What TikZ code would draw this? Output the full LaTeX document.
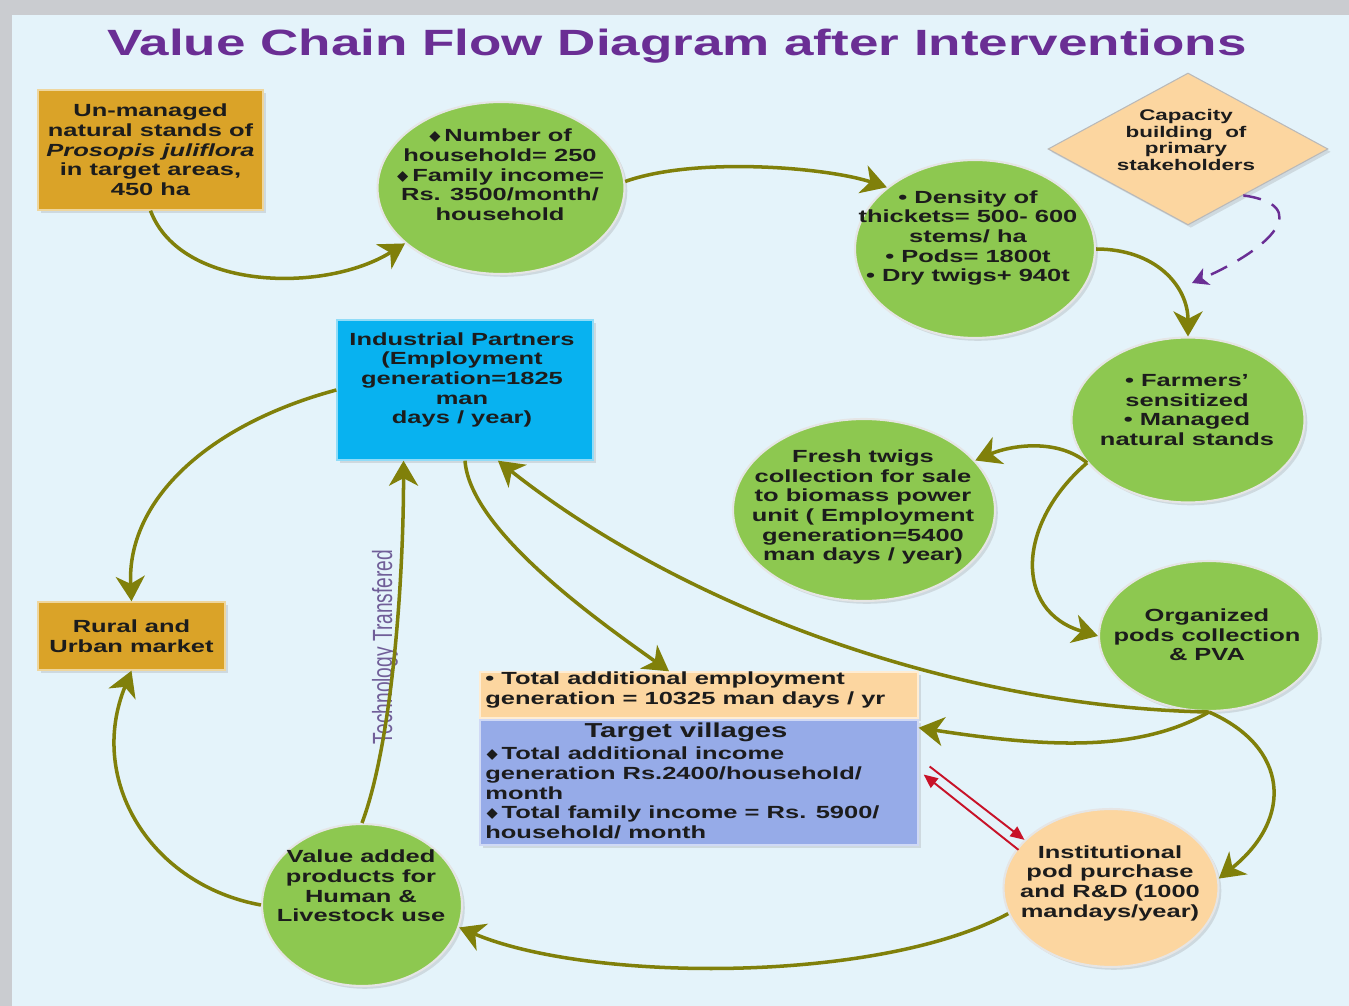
\documentclass[tikz,border=0pt]{standalone}
\usepackage{fontspec}
\usepackage{amssymb}
\usepackage{graphicx}
\setmainfont[FakeStretch=1.45]{Liberation Sans}
\newfontfamily\rotfont[FakeStretch=0.69]{Liberation Sans}
\usetikzlibrary{shapes.geometric,arrows.meta,shadows}

\newcommand{\dmd}{\raisebox{0.1ex}{\scalebox{1.45}[1]{\scriptsize$\blacklozenge$}}\hspace{0.15em}}

\begin{document}
\begin{tikzpicture}[x=0.02cm, y=-0.02cm,
    soft/.style={drop shadow={shadow xshift=1.6pt, shadow yshift=-1.6pt, opacity=0.22}},
    bubble/.style={ellipse, fill=leaf, draw=white!80!gray, line width=1.2pt, inner sep=0pt, soft},
    box/.style={rectangle, inner sep=0pt, draw=white!55!#1, line width=0.8pt, fill=#1, soft},
    txt/.style={align=center, text=ink, inner sep=0pt,
        font=\bfseries\fontsize{10}{11.2}\selectfont},
    flow/.style={draw=olivearr, line width=2pt,
        -{Stealth[length=5mm, width=5.8mm, inset=1.5mm]}},
    hint/.style={draw=plum, line width=1.4pt, dash pattern=on 3.6mm off 2.4mm,
        -{Stealth[length=3.2mm, width=3.6mm, inset=0.9mm]}},
    dart/.style={draw=crimsn, line width=1.1pt,
        -{Triangle[length=2.8mm, width=2.4mm]}}]
\definecolor{frame}{RGB}{202,204,208}
\definecolor{sky}{RGB}{228,243,250}
\definecolor{leaf}{RGB}{141,200,80}
\definecolor{ochre}{RGB}{218,163,40}
\definecolor{azure}{RGB}{8,178,240}
\definecolor{peach}{RGB}{252,214,160}
\definecolor{lav}{RGB}{150,171,232}
\definecolor{olivearr}{RGB}{128,128,10}
\definecolor{crimsn}{RGB}{200,18,40}
\definecolor{plum}{RGB}{106,46,148}
\definecolor{lilac}{RGB}{112,94,152}
\definecolor{ink}{RGB}{28,28,28}

\useasboundingbox (0,0) rectangle (1349,1006);
\fill[frame] (0,0) rectangle (1349,1006);
\fill[sky] (12,15) rectangle (1349,1006);

\node[font=\bfseries\fontsize{20.8}{24}\selectfont, text=plum] (title) at (677,46)
    {Value Chain Flow Diagram after Interventions};

\node[box=ochre, minimum width=4.5cm, minimum height=2.4cm] (um) at (150.5,150) {};
\node[txt] (um-t) at (um)
    {Un-managed\\natural stands of\\\textit{Prosopis juliflora}\\in target areas,\\450 ha};

\node[bubble, minimum width=4.94cm, minimum height=3.44cm] (hh) at (501,188) {};
\node[txt] (hh-t) at (500,175)
    {\dmd Number of\\household= 250\\\dmd Family income=\\Rs. 3500/month/\\household};

\node[bubble, minimum width=4.8cm, minimum height=3.56cm] (dens) at (975,249) {};
\node[txt] (dens-t) at (968,238)
    {\textbullet\ Density of\\thickets= 500- 600\\stems/ ha\\\textbullet\ Pods= 1800t\\\textbullet\ Dry twigs+ 940t};

\node[diamond, fill=peach, draw=gray!55, line width=0.6pt, inner sep=0pt, soft,
    minimum width=5.6cm, minimum height=3.04cm] (cap) at (1188,149) {};
\node[txt, font=\bfseries\fontsize{8.8}{9.6}\selectfont] (cap-t) at (1186,140)
    {Capacity\\building~ of\\primary\\stakeholders};

\node[bubble, minimum width=4.66cm, minimum height=3.3cm] (farm) at (1188,420) {};
\node[txt] (farm-t) at (1187,410)
    {\textbullet\ Farmers'\\sensitized\\\textbullet\ Managed\\natural stands};

\node[bubble, minimum width=5.24cm, minimum height=3.64cm] (fresh) at (864,510) {};
\node[txt] (fresh-t) at (863,507)
    {Fresh twigs\\collection for sale\\to biomass power\\unit ( Employment\\generation=5400\\man days / year)};

\node[bubble, minimum width=4.4cm, minimum height=3cm] (org) at (1209,636) {};
\node[txt] (org-t) at (1207,635) {Organized\\pods collection\\\& PVA};

\node[box=azure, minimum width=5.12cm, minimum height=2.8cm] (ind) at (465,390) {};
\node[txt] (ind-t) at (462,380)
    {Industrial Partners\\(Employment\\generation=1825\\man\\days / year)};

\node[box=ochre, minimum width=3.74cm, minimum height=1.36cm] (market) at (131.5,636) {};
\node[txt] (market-t) at (market) {Rural and\\Urban market};

\node[box=peach, minimum width=8.76cm, minimum height=0.92cm] (emp) at (699,695) {};
\node[txt, align=left, anchor=west] (emp-t) at (485,690)
    {\textbullet\ Total additional employment\\generation = 10325 man days / yr};

\node[box=lav, minimum width=8.76cm, minimum height=2.5cm] (tv) at (699,782.5) {};
\node[txt, font=\bfseries\fontsize{11.5}{12}\selectfont] (tv-h) at (686,732) {Target villages};
\node[txt, align=left, anchor=west] (tv-t) at (485,793)
    {\dmd Total additional income\\generation Rs.2400/household/\\month\\\dmd Total family income = Rs. 5900/\\household/ month};

\node[bubble, minimum width=4cm, minimum height=3.24cm] (value) at (362,905) {};
\node[txt] (value-t) at (361,886)
    {Value added\\products for\\Human \&\\Livestock use};

\node[bubble, fill=peach, minimum width=4.3cm, minimum height=3.16cm] (inst) at (1111,888) {};
\node[txt] (inst-t) at (1110,883)
    {Institutional\\pod purchase\\and R\&D (1000\\mandays/year)};

\node[rotate=90, inner sep=0pt, text=lilac, font=\rotfont\fontsize{15.8}{18}\selectfont]
    (tech) at (385,647) {Technology Transfered};

\coordinate (capin) at (1192,283);

\draw[flow] (um.south) .. controls +(30,80) and +(-80,50) .. (hh.210);
\draw[flow] (hh.3) .. controls +(70,-25) and +(-60,-20) .. (dens.145);
\draw[flow] (dens.east) .. controls +(60,0) and +(0,-50) .. (farm.north);
\draw[hint] (cap.-40) .. controls +(70,10) and +(80,-35) .. (capin);
\draw[flow] (farm.203) .. controls +(-30,-25) and +(35,-15) .. (fresh.24);
\draw[flow] (farm.203) .. controls +(-70,60) and +(-85,-25) .. (org.west);
\draw[flow] (org.south) .. controls +(-250,-5) and +(190,150) .. (ind.-65);
\draw[flow] (org.south) .. controls +(-70,40) and +(130,20) .. (tv.14);
\draw[flow] (org.south) .. controls +(80,35) and +(75,-60) .. (inst.5);
\draw[flow] (ind.south) .. controls +(5,70) and +(-70,-50) .. ([xshift=-0.6cm]emp.north);
\draw[flow] (ind.west) .. controls +(-130,35) and +(-5,-100) .. (market.north);
\draw[flow] (value.west) .. controls +(-110,-20) and +(-45,110) .. (market.south);
\draw[flow] (value.north) .. controls +(30,-80) and +(0,120) .. (ind.-131);
\draw[flow] (inst.194) .. controls +(-130,70) and +(130,55) .. (value.-13);

\draw[dart] ([shift={(11,-16)}]tv.east) -- ([shift={(4,-4)}]inst.154);
\draw[dart] ([shift={(-2,6)}]inst.154) -- ([shift={(5,-8)}]tv.east);

\end{tikzpicture}
\end{document}
